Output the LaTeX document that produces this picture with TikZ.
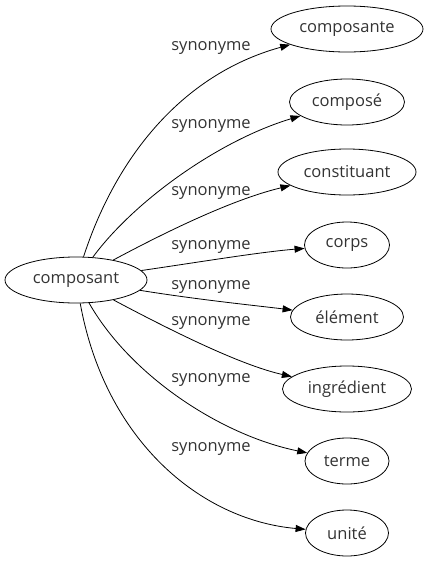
\documentclass[tikz,border=0pt]{standalone}
\usepackage{fontspec}
\setmainfont{Open Sans}
\usetikzlibrary{arrows.meta,shapes.geometric}
\begin{document}
\begin{tikzpicture}[x=1pt,y=-1pt,
  nd/.style={draw,ellipse,line width=0.8pt,inner sep=0pt,font=\fontsize{16.5}{18}\selectfont,text=black!80},
  lbl/.style={font=\fontsize{16.5}{18}\selectfont,text=black!80},
  ed/.style={line width=0.8pt,-{Triangle[length=10pt,width=7pt]}}]
\useasboundingbox (0,0) rectangle (429,563);
\node[nd,minimum width=142pt,minimum height=46pt] (c) at (76,280) {composant};
\node[nd,minimum width=152pt,minimum height=46pt] (n1) at (347,29) {composante};
\node[nd,minimum width=115pt,minimum height=46pt] (n2) at (347,102) {composé};
\node[nd,minimum width=138pt,minimum height=46pt] (n3) at (347,172) {constituant};
\node[nd,minimum width=85pt,minimum height=46pt] (n4) at (347,245) {corps};
\node[nd,minimum width=113pt,minimum height=46pt] (n5) at (347,317) {élément};
\node[nd,minimum width=129pt,minimum height=46pt] (n6) at (347,389) {ingrédient};
\node[nd,minimum width=84pt,minimum height=46pt] (n7) at (347,461) {terme};
\node[nd,minimum width=83pt,minimum height=46pt] (n8) at (347,533) {unité};
\draw[ed] (c) .. controls (115,160) and (180,75) .. (n1);
\draw[ed] (c) .. controls (135,200) and (220,140) .. (n2);
\draw[ed] (c) .. controls (160,235) and (230,200) .. (n3);
\draw[ed] (c) .. controls (200,262) and (260,252) .. (n4);
\draw[ed] (c) .. controls (200,300) and (260,306) .. (n5);
\draw[ed] (c) .. controls (170,330) and (240,365) .. (n6);
\draw[ed] (c) .. controls (130,375) and (220,435) .. (n7);
\draw[ed] (c) .. controls (105,440) and (200,520) .. (n8);
\node[lbl] (l1) at (211,48) {synonyme};
\node[lbl] (l2) at (211,126) {synonyme};
\node[lbl] (l3) at (211,193) {synonyme};
\node[lbl] (l4) at (211,247) {synonyme};
\node[lbl] (l5) at (211,287) {synonyme};
\node[lbl] (l6) at (211,323) {synonyme};
\node[lbl] (l7) at (211,380) {synonyme};
\node[lbl] (l8) at (211,449) {synonyme};
\end{tikzpicture}
\end{document}
